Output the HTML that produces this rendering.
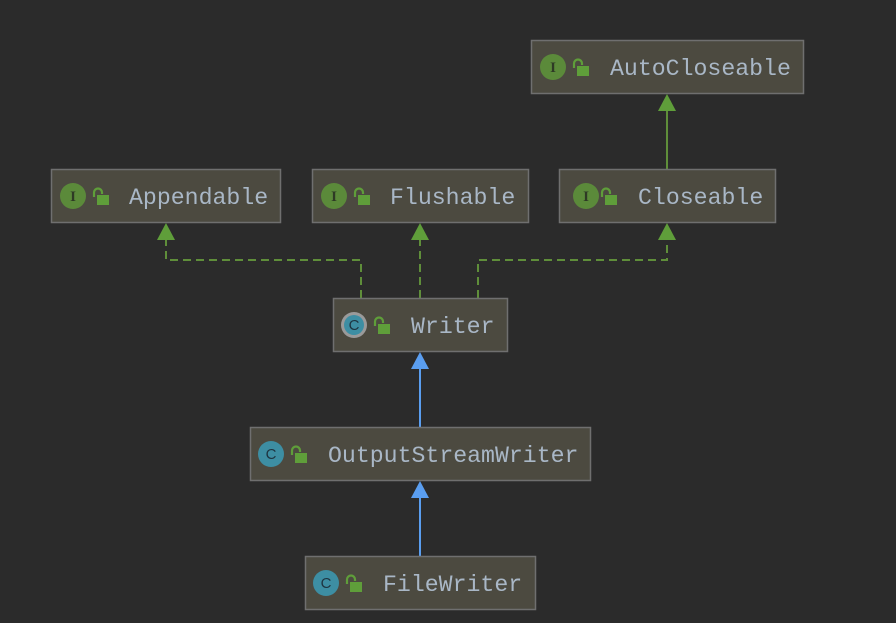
<!DOCTYPE html>
<html><head><meta charset="utf-8"><style>
html,body{margin:0;padding:0;background:#2b2b2b;}
svg{display:block}
text{font-family:"Liberation Mono",monospace;font-size:23.2px;fill:#a9b7c6;}
</style></head><body>
<svg width="896" height="623" viewBox="0 0 896 623" xmlns="http://www.w3.org/2000/svg">
<defs>
<g id="lock">
<path d="M0 9 V4.5 A4 4 0 0 1 8 4.5 V6" fill="none" stroke="#5f9e3a" stroke-width="2.2"/>
<rect x="3" y="7" width="12" height="10" fill="#5f9e3a"/>
</g>
</defs>
<rect width="896" height="623" fill="#2b2b2b"/>
<g fill="none" stroke="#5f8e3a" stroke-width="2">
<line x1="667" y1="110" x2="667" y2="169"/>
<g stroke-dasharray="8,5">
<polyline points="361,298 361,260 166,260 166,240"/>
<polyline points="420,298 420,240"/>
<polyline points="478,298 478,260 667,260 667,240"/>
</g>
</g>
<g fill="#5f9e3a">
<polygon points="667,94 658,111 676,111"/>
<polygon points="166,223 157,240 175,240"/>
<polygon points="420,223 411,240 429,240"/>
<polygon points="667,223 658,240 676,240"/>
</g>
<g stroke="#5a9ef0" stroke-width="2"><line x1="420" y1="368" x2="420" y2="427"/><line x1="420" y1="497" x2="420" y2="556"/></g>
<g fill="#5a9ef0">
<polygon points="420,352 411,369 429,369"/>
<polygon points="420,481 411,498 429,498"/>
</g>
<g fill="#4c4a40" stroke="#6f6f6f" stroke-width="1.5">
<rect x="531.5" y="40.5" width="272" height="53"/>
<rect x="51.5" y="169.5" width="229" height="53"/>
<rect x="312.5" y="169.5" width="216" height="53"/>
<rect x="559.5" y="169.5" width="216" height="53"/>
<rect x="333.5" y="298.5" width="174" height="53"/>
<rect x="250.5" y="427.5" width="340" height="53"/>
<rect x="305.5" y="556.5" width="230" height="53"/>
</g>
<g fill="#5b8a3a">
<circle cx="553" cy="67" r="13"/><circle cx="73" cy="196" r="13"/><circle cx="334" cy="196" r="13"/><circle cx="586" cy="196" r="13"/>
</g>
<g text-anchor="middle">
<text x="553" y="72" style="font-family:'Liberation Serif',serif;font-size:15px;fill:#2e3a25;font-weight:bold">I</text>
<text x="73" y="201" style="font-family:'Liberation Serif',serif;font-size:15px;fill:#2e3a25;font-weight:bold">I</text>
<text x="334" y="201" style="font-family:'Liberation Serif',serif;font-size:15px;fill:#2e3a25;font-weight:bold">I</text>
<text x="586" y="201" style="font-family:'Liberation Serif',serif;font-size:15px;fill:#2e3a25;font-weight:bold">I</text>
</g>
<circle cx="354" cy="325" r="13" fill="#9a9a9a"/><circle cx="354" cy="325" r="10" fill="#3d8ea3"/>
<circle cx="271" cy="454" r="13" fill="#3d8ea3"/>
<circle cx="326" cy="583" r="13" fill="#3d8ea3"/>
<g text-anchor="middle">
<text x="354" y="330" style="font-family:'Liberation Sans',sans-serif;font-size:15px;fill:#1e3440">C</text>
<text x="271" y="459" style="font-family:'Liberation Sans',sans-serif;font-size:15px;fill:#1e3440">C</text>
<text x="326" y="588" style="font-family:'Liberation Sans',sans-serif;font-size:15px;fill:#1e3440">C</text>
</g>
<use href="#lock" x="574" y="59"/>
<use href="#lock" x="94" y="188"/>
<use href="#lock" x="355" y="188"/>
<use href="#lock" x="602" y="188"/>
<use href="#lock" x="375" y="317"/>
<use href="#lock" x="292" y="446"/>
<use href="#lock" x="347" y="575"/>
<text x="610" y="75">AutoCloseable</text>
<text x="129" y="204">Appendable</text>
<text x="390" y="204">Flushable</text>
<text x="638" y="204">Closeable</text>
<text x="411" y="333">Writer</text>
<text x="328" y="462">OutputStreamWriter</text>
<text x="383" y="591">FileWriter</text>
</svg>
</body></html>
